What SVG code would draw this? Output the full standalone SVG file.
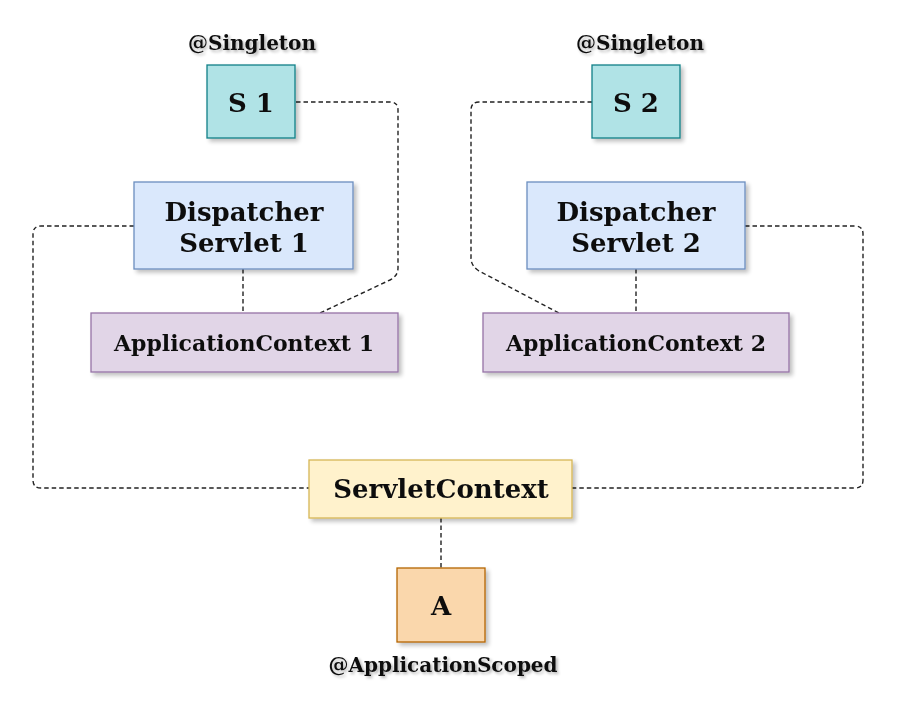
<svg xmlns="http://www.w3.org/2000/svg" width="898" height="716" viewBox="0 0 898 716">
<defs>
<filter id="sh" x="-20%" y="-20%" width="150%" height="160%">
<feGaussianBlur in="SourceAlpha" stdDeviation="2"/>
<feOffset dx="3" dy="3" result="b"/>
<feComponentTransfer><feFuncA type="linear" slope="0.25"/></feComponentTransfer>
<feMerge><feMergeNode/><feMergeNode in="SourceGraphic"/></feMerge>
</filter>
<filter id="tsh" x="-10%" y="-30%" width="120%" height="180%">
<feGaussianBlur in="SourceAlpha" stdDeviation="1.5"/>
<feOffset dx="2" dy="2"/>
<feComponentTransfer><feFuncA type="linear" slope="0.3"/></feComponentTransfer>
<feMerge><feMergeNode/><feMergeNode in="SourceGraphic"/></feMerge>
</filter>
</defs>
<style>
text{font-family:"DejaVu Serif","Liberation Serif",serif;font-weight:bold;fill:#111;text-anchor:middle}
.big{font-size:26px}
.mid{font-size:22px}
.lbl{font-size:20px}
.s{fill:#b0e3e6;stroke:#0e8088;stroke-width:1.3}
.d{fill:#dae8fc;stroke:#6c8ebf;stroke-width:1.3}
.ac{fill:#e1d5e7;stroke:#9673a6;stroke-width:1.3}
.sc{fill:#fff2cc;stroke:#d6b656;stroke-width:1.3}
.a{fill:#fad7ac;stroke:#b46504;stroke-width:1.3}
.c{fill:none;stroke:#222;stroke-width:1.4;stroke-dasharray:4.5 3}
</style>
<rect width="898" height="716" fill="#fff"/>
<g id="connectors">
<path class="c" d="M296,102 H390 Q398,102 398,110 V268 Q398,276 390,280 L320,313"/>
<path class="c" d="M243,269 V313"/>
<path class="c" d="M134,226 H41 Q33,226 33,234 V480 Q33,488 41,488 H309"/>
<path class="c" d="M592,102 H479 Q471,102 471,110 V258 Q471,266 479,271 L559,313"/>
<path class="c" d="M636,269 V313"/>
<path class="c" d="M745,226 H855 Q863,226 863,234 V480 Q863,488 855,488 H572"/>
<path class="c" d="M441,518 V568"/>
</g>
<g id="s1" filter="url(#sh)">
<rect class="s" x="207" y="65" width="88" height="73"/>
<text class="big" x="251" y="112">S 1</text>
</g>
<text class="lbl" x="252" y="50" filter="url(#tsh)">@Singleton</text>
<g id="s2" filter="url(#sh)">
<rect class="s" x="592" y="65" width="88" height="73"/>
<text class="big" x="636" y="112">S 2</text>
</g>
<text class="lbl" x="640" y="50" filter="url(#tsh)">@Singleton</text>
<g id="ds1" filter="url(#sh)">
<rect class="d" x="134" y="182" width="219" height="87"/>
<text class="big" x="244" y="221">Dispatcher</text>
<text class="big" x="244" y="252">Servlet 1</text>
</g>
<g id="ds2" filter="url(#sh)">
<rect class="d" x="527" y="182" width="218" height="87"/>
<text class="big" x="636" y="221">Dispatcher</text>
<text class="big" x="636" y="252">Servlet 2</text>
</g>
<g id="ac1" filter="url(#sh)">
<rect class="ac" x="91" y="313" width="307" height="59"/>
<text class="mid" x="244" y="351">ApplicationContext 1</text>
</g>
<g id="ac2" filter="url(#sh)">
<rect class="ac" x="483" y="313" width="306" height="59"/>
<text class="mid" x="636" y="351">ApplicationContext 2</text>
</g>
<g id="servletcontext" filter="url(#sh)">
<rect class="sc" x="309" y="460" width="263" height="58"/>
<text class="big" x="441" y="498">ServletContext</text>
</g>
<g id="a" filter="url(#sh)">
<rect class="a" x="397" y="568" width="88" height="74"/>
<text class="big" x="441" y="615">A</text>
</g>
<text class="lbl" x="443" y="672" filter="url(#tsh)">@ApplicationScoped</text>
</svg>
